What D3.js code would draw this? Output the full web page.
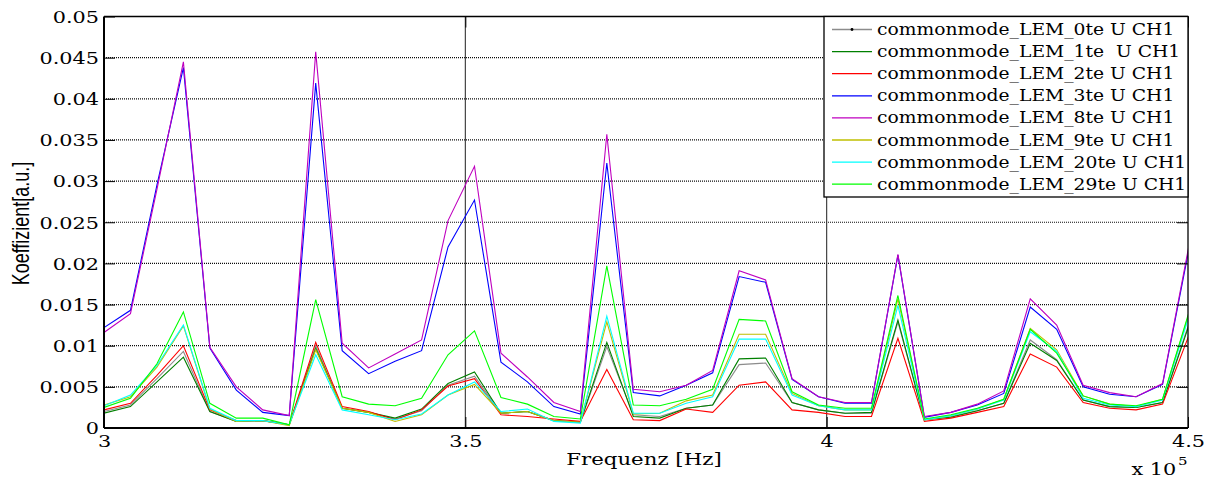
<!DOCTYPE html>
<html>
<head>
<meta charset="utf-8">
<script src="https://cdn.jsdelivr.net/npm/d3@7"></script>
<style>
  html, body { margin: 0; padding: 0; background: #fff; }
  svg { display: block; }
</style>
</head>
<body>
<svg id="chart" width="1215" height="479"></svg>
<script>
// ---- data -------------------------------------------------------------
// Frequency bins [Hz]
const freqHz = [
  300000, 303662, 307324, 310986, 314648, 318310, 321972, 325634, 329296, 332958,
  336620, 340282, 343944, 347606, 351268, 354930, 358592, 362254, 365916, 369578,
  373240, 376902, 380564, 384226, 387888, 391550, 395212, 398874, 402536, 406198,
  409860, 413522, 417184, 420846, 424508, 428170, 431832, 435494, 439156, 442818,
  446480, 450142
];

const seriesNames = [
  "commonmode_LEM_0te U CH1",
  "commonmode_LEM_1te  U CH1",
  "commonmode_LEM_2te U CH1",
  "commonmode_LEM_3te U CH1",
  "commonmode_LEM_8te U CH1",
  "commonmode_LEM_9te U CH1",
  "commonmode_LEM_20te U CH1",
  "commonmode_LEM_29te U CH1"
];

const lem0 = [
  0.0020, 0.0028, 0.0060, 0.0093, 0.0020, 0.0008, 0.0009, 0.0004, 0.0100, 0.0024,
  0.0019, 0.0011, 0.0021, 0.0052, 0.0063, 0.0018, 0.0020, 0.0009, 0.0007, 0.0099,
  0.0016, 0.0014, 0.0024, 0.0028, 0.0077, 0.0079, 0.0031, 0.0022, 0.0018, 0.0018,
  0.0129, 0.0010, 0.0014, 0.0021, 0.0030, 0.0107, 0.0083, 0.0034, 0.0026, 0.0025,
  0.0031, 0.0127
];
const lem1 = [
  0.0018, 0.0026, 0.0056, 0.0086, 0.0020, 0.0008, 0.0009, 0.0004, 0.0097, 0.0024,
  0.0019, 0.0012, 0.0023, 0.0054, 0.0068, 0.0018, 0.0020, 0.0009, 0.0007, 0.0104,
  0.0014, 0.0012, 0.0024, 0.0028, 0.0084, 0.0085, 0.0031, 0.0022, 0.0018, 0.0019,
  0.0131, 0.0010, 0.0013, 0.0021, 0.0030, 0.0103, 0.0082, 0.0034, 0.0026, 0.0025,
  0.0031, 0.0125
];
const lem2 = [
  0.0022, 0.0030, 0.0064, 0.0100, 0.0022, 0.0009, 0.0009, 0.0004, 0.0104, 0.0026,
  0.0020, 0.0010, 0.0022, 0.0051, 0.0060, 0.0016, 0.0014, 0.0011, 0.0008, 0.0071,
  0.0010, 0.0009, 0.0023, 0.0019, 0.0052, 0.0056, 0.0022, 0.0019, 0.0014, 0.0014,
  0.0109, 0.0008, 0.0012, 0.0019, 0.0026, 0.0090, 0.0074, 0.0031, 0.0024, 0.0022,
  0.0029, 0.0113
];
const lem3 = [
  0.0122, 0.0143, 0.0295, 0.0438, 0.0097, 0.0046, 0.0019, 0.0015, 0.0419, 0.0094,
  0.0066, 0.0081, 0.0094, 0.0220, 0.0277, 0.0080, 0.0056, 0.0026, 0.0017, 0.0322,
  0.0043, 0.0039, 0.0052, 0.0067, 0.0184, 0.0177, 0.0059, 0.0038, 0.0030, 0.0030,
  0.0210, 0.0013, 0.0019, 0.0028, 0.0042, 0.0147, 0.0120, 0.0050, 0.0041, 0.0038,
  0.0053, 0.0218
];
const lem8 = [
  0.0116, 0.0139, 0.0290, 0.0445, 0.0098, 0.0050, 0.0022, 0.0015, 0.0457, 0.0103,
  0.0073, 0.0090, 0.0107, 0.0252, 0.0318, 0.0091, 0.0062, 0.0031, 0.0020, 0.0357,
  0.0047, 0.0044, 0.0052, 0.0070, 0.0191, 0.0180, 0.0060, 0.0038, 0.0031, 0.0031,
  0.0211, 0.0014, 0.0019, 0.0029, 0.0045, 0.0157, 0.0125, 0.0052, 0.0043, 0.0038,
  0.0054, 0.0222
];
const lem9 = [
  0.0028, 0.0038, 0.0074, 0.0124, 0.0023, 0.0008, 0.0009, 0.0003, 0.0095, 0.0024,
  0.0019, 0.0008, 0.0016, 0.0040, 0.0053, 0.0018, 0.0020, 0.0009, 0.0007, 0.0129,
  0.0017, 0.0018, 0.0033, 0.0040, 0.0114, 0.0114, 0.0042, 0.0027, 0.0022, 0.0022,
  0.0157, 0.0010, 0.0015, 0.0023, 0.0035, 0.0121, 0.0095, 0.0039, 0.0029, 0.0026,
  0.0035, 0.0139
];
const lem20 = [
  0.0027, 0.0040, 0.0076, 0.0125, 0.0024, 0.0009, 0.0009, 0.0004, 0.0089, 0.0022,
  0.0016, 0.0010, 0.0017, 0.0040, 0.0056, 0.0020, 0.0023, 0.0008, 0.0006, 0.0136,
  0.0018, 0.0018, 0.0030, 0.0038, 0.0108, 0.0108, 0.0040, 0.0027, 0.0022, 0.0022,
  0.0149, 0.0010, 0.0015, 0.0023, 0.0034, 0.0117, 0.0093, 0.0036, 0.0028, 0.0026,
  0.0034, 0.0136
];
const lem29 = [
  0.0025, 0.0036, 0.0078, 0.0141, 0.0030, 0.0012, 0.0012, 0.0004, 0.0156, 0.0038,
  0.0029, 0.0027, 0.0036, 0.0089, 0.0118, 0.0037, 0.0029, 0.0014, 0.0011, 0.0197,
  0.0028, 0.0027, 0.0035, 0.0047, 0.0132, 0.0130, 0.0044, 0.0028, 0.0024, 0.0024,
  0.0161, 0.0011, 0.0016, 0.0024, 0.0035, 0.0120, 0.0091, 0.0039, 0.0029, 0.0027,
  0.0035, 0.0141
];

const seriesValues = [lem0, lem1, lem2, lem3, lem8, lem9, lem20, lem29];

const xTicks = [300000, 350000, 400000, 450000];
const xTickLabels = ["3", "3.5", "4", "4.5"];
const yTicks = [0, 0.005, 0.01, 0.015, 0.02, 0.025, 0.03, 0.035, 0.04, 0.045, 0.05];
const yTickLabels = ["0", "0.005", "0.01", "0.015", "0.02", "0.025", "0.03", "0.035", "0.04", "0.045", "0.05"];

// ---- styling ----------------------------------------------------------
const lineColors = ["#8c8c8c", "#008000", "#ff0000", "#0000ff", "#bf00bf", "#bfbf00", "#00ffff", "#00ff00"];
const serif = "'DejaVu Serif', serif";
const stretch = 1.3;   // wide serif lettering

const plot = { left: 104, right: 1188, top: 16.5, bottom: 428 };

const svg = d3.select("#chart");
svg.append("rect").attr("width", 1215).attr("height", 479).attr("fill", "#fff");

const x = d3.scaleLinear().domain([300000, 450000]).range([plot.left, plot.right]);
const y = d3.scaleLinear().domain([0, 0.05]).range([plot.bottom, plot.top]);

// scale text horizontally around its anchor point
function widen(sel, s) {
  sel.each(function () {
    const t = d3.select(this);
    const tx = +t.attr("x") || 0, ty = +t.attr("y") || 0;
    t.attr("x", 0).attr("y", 0).attr("transform", `translate(${tx},${ty}) scale(${s},1)`);
  });
}

// ---- grid -------------------------------------------------------------
const grid = svg.append("g");
grid.selectAll("line.h")
  .data(yTicks.slice(1, -1))
  .join("line")
  .attr("x1", plot.left).attr("x2", plot.right)
  .attr("y1", d => y(d)).attr("y2", d => y(d))
  .attr("stroke", "#000").attr("stroke-width", 1.2)
  .attr("stroke-dasharray", "1 1").attr("opacity", 0.95);
grid.selectAll("line.v")
  .data(xTicks.slice(1, -1))
  .join("line")
  .attr("x1", d => x(d)).attr("x2", d => x(d))
  .attr("y1", plot.top).attr("y2", plot.bottom)
  .attr("stroke", "#333").attr("stroke-width", 1.1);

// ---- series -----------------------------------------------------------
svg.append("clipPath").attr("id", "plotClip")
  .append("rect")
  .attr("x", plot.left).attr("y", plot.top)
  .attr("width", plot.right - plot.left).attr("height", plot.bottom - plot.top);

const line = d3.line().x((d, i) => x(freqHz[i])).y(d => y(d));
svg.append("g").attr("clip-path", "url(#plotClip)")
  .selectAll("path")
  .data(seriesValues)
  .join("path")
  .attr("d", line)
  .attr("fill", "none")
  .attr("stroke", (d, i) => lineColors[i])
  .attr("stroke-width", 1.1)
  .attr("stroke-linejoin", "miter");

// ---- axes -------------------------------------------------------------
const tick = 11;
const gLeft = svg.append("g").attr("transform", `translate(${plot.left},0)`)
  .call(d3.axisLeft(y).tickValues(yTicks).tickFormat((d, i) => yTickLabels[i])
    .tickSizeInner(-tick).tickSizeOuter(0).tickPadding(5));
const gBottom = svg.append("g").attr("transform", `translate(0,${plot.bottom})`)
  .call(d3.axisBottom(x).tickValues(xTicks).tickFormat((d, i) => xTickLabels[i])
    .tickSizeInner(-tick).tickSizeOuter(0).tickPadding(8));
const gRight = svg.append("g").attr("transform", `translate(${plot.right},0)`)
  .call(d3.axisRight(y).tickValues(yTicks).tickFormat("").tickSizeInner(-tick).tickSizeOuter(0));
const gTop = svg.append("g").attr("transform", `translate(0,${plot.top})`)
  .call(d3.axisTop(x).tickValues(xTicks).tickFormat("").tickSizeInner(-tick).tickSizeOuter(0));

[gLeft, gBottom, gRight, gTop].forEach(g => {
  g.select(".domain").remove();
  g.selectAll(".tick line").attr("stroke", "#000").attr("stroke-width", 1);
});
[gLeft, gBottom].forEach(g => {
  g.selectAll("text")
    .attr("font-family", serif).attr("font-size", 16).attr("fill", "#000");
});
gLeft.selectAll("text").attr("dy", "0.36em");
widen(gLeft.selectAll("text"), stretch);
widen(gBottom.selectAll("text"), stretch);

// axes box
const box = svg.append("g").attr("stroke", "#000").attr("fill", "none");
box.append("line").attr("x1", plot.left).attr("x2", plot.right).attr("y1", plot.top).attr("y2", plot.top).attr("stroke-width", 1.3);
box.append("line").attr("x1", plot.right).attr("x2", plot.right).attr("y1", plot.top).attr("y2", plot.bottom).attr("stroke-width", 1.3);
box.append("line").attr("x1", plot.left).attr("x2", plot.right).attr("y1", plot.bottom).attr("y2", plot.bottom).attr("stroke-width", 2);
box.append("line").attr("x1", plot.left).attr("x2", plot.left).attr("y1", plot.top).attr("y2", plot.bottom).attr("stroke-width", 2);

// ---- axis titles ------------------------------------------------------
svg.append("text")
  .attr("x", 644).attr("y", 465)
  .attr("text-anchor", "middle")
  .attr("font-family", serif).attr("font-size", 16)
  .text("Frequenz [Hz]")
  .call(widen, 1.33);

svg.append("text")
  .attr("transform", "translate(28.5,223.5) scale(1.3,1) rotate(-90)")
  .attr("text-anchor", "middle")
  .attr("font-family", "'Liberation Sans', Arial, sans-serif").attr("font-size", 18)
  .text("Koeffizient[a.u.]");

// exponent note under the x axis
svg.append("text")
  .attr("x", 1131.5).attr("y", 475)
  .attr("font-family", serif).attr("font-size", 16)
  .text("x 10")
  .call(widen, stretch);
svg.append("text")
  .attr("x", 1178).attr("y", 465)
  .attr("font-family", serif).attr("font-size", 11.5)
  .text("5")
  .call(widen, stretch);

// ---- legend -----------------------------------------------------------
const legend = svg.append("g");
legend.append("rect")
  .attr("x", 824).attr("y", plot.top)
  .attr("width", plot.right - 824).attr("height", 197 - plot.top)
  .attr("fill", "#fff").attr("stroke", "#000").attr("stroke-width", 1.3);

const rowY = i => 29.5 + i * 22.1;
const rows = legend.selectAll("g.row")
  .data(seriesNames)
  .join("g")
  .attr("transform", (d, i) => `translate(0,${rowY(i)})`);
rows.append("line")
  .attr("x1", 832).attr("x2", 872).attr("y1", 0).attr("y2", 0)
  .attr("stroke", (d, i) => lineColors[i]).attr("stroke-width", 1.3);
rows.filter((d, i) => i === 0).append("circle")
  .attr("cx", 852).attr("cy", 0).attr("r", 1.4).attr("fill", "#000");
rows.append("text")
  .attr("x", 877).attr("y", 5.5)
  .attr("font-family", serif).attr("font-size", 16)
  .attr("xml:space", "preserve").style("white-space", "pre")
  .text(d => d)
  .each(function () { widen(d3.select(this), 1.17); });
</script>
</body>
</html>
